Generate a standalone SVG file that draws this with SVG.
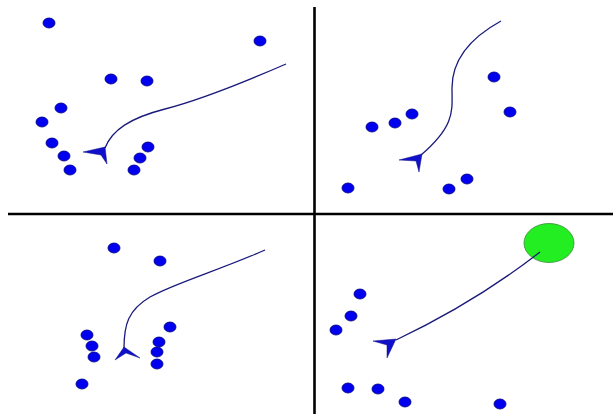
<svg xmlns="http://www.w3.org/2000/svg" width="613" height="414" viewBox="0 0 613 414">
<style>
.dot{fill:#0000ee;stroke:#000080;stroke-width:0.8}
.path{fill:none;stroke:#1a1a7a;stroke-width:1.3}
.head{fill:#1010cc;stroke:#101080;stroke-width:0.5}
.div{stroke:#000;stroke-width:2.6}
</style>
<rect width="613" height="414" fill="#fff"/>
<g id="dividers">
<line class="div" x1="8" y1="214" x2="613" y2="214"/>
<line class="div" x1="314.5" y1="7" x2="314.5" y2="414"/>
</g>
<g id="q1">
<ellipse class="dot" cx="49" cy="23" rx="6" ry="5"/>
<ellipse class="dot" cx="260" cy="41" rx="6" ry="5"/>
<ellipse class="dot" cx="111" cy="79" rx="6" ry="5"/>
<ellipse class="dot" cx="147" cy="81" rx="6" ry="5"/>
<ellipse class="dot" cx="61" cy="108" rx="6" ry="5"/>
<ellipse class="dot" cx="42" cy="122" rx="6" ry="5"/>
<ellipse class="dot" cx="52" cy="143" rx="6" ry="5"/>
<ellipse class="dot" cx="64" cy="156" rx="6" ry="5"/>
<ellipse class="dot" cx="70" cy="170" rx="6" ry="5"/>
<ellipse class="dot" cx="148" cy="147" rx="6" ry="5"/>
<ellipse class="dot" cx="140" cy="158" rx="6" ry="5"/>
<ellipse class="dot" cx="134" cy="170" rx="6" ry="5"/>
</g>
<g id="q2">
<ellipse class="dot" cx="494" cy="77" rx="6" ry="5"/>
<ellipse class="dot" cx="510" cy="112" rx="6" ry="5"/>
<ellipse class="dot" cx="412" cy="114" rx="6" ry="5"/>
<ellipse class="dot" cx="395" cy="123" rx="6" ry="5"/>
<ellipse class="dot" cx="372" cy="127" rx="6" ry="5"/>
<ellipse class="dot" cx="348" cy="188" rx="6" ry="5"/>
<ellipse class="dot" cx="449" cy="189" rx="6" ry="5"/>
<ellipse class="dot" cx="467" cy="179" rx="6" ry="5"/>
</g>
<g id="q3">
<ellipse class="dot" cx="114" cy="248" rx="6" ry="5"/>
<ellipse class="dot" cx="160" cy="261" rx="6" ry="5"/>
<ellipse class="dot" cx="170" cy="327" rx="6" ry="5"/>
<ellipse class="dot" cx="87" cy="335" rx="6" ry="5"/>
<ellipse class="dot" cx="92" cy="346" rx="6" ry="5"/>
<ellipse class="dot" cx="94" cy="357" rx="6" ry="5"/>
<ellipse class="dot" cx="159" cy="342" rx="6" ry="5"/>
<ellipse class="dot" cx="157" cy="352" rx="6" ry="5"/>
<ellipse class="dot" cx="157" cy="364" rx="6" ry="5"/>
<ellipse class="dot" cx="82" cy="384" rx="6" ry="5"/>
</g>
<g id="q4">
<ellipse id="goal" cx="549" cy="243" rx="25" ry="19.5" fill="#22ee22" stroke="#3a8a3a" stroke-width="0.8"/>
<ellipse class="dot" cx="360" cy="294" rx="6" ry="5"/>
<ellipse class="dot" cx="351" cy="316" rx="6" ry="5"/>
<ellipse class="dot" cx="336" cy="330" rx="6" ry="5"/>
<ellipse class="dot" cx="348" cy="388" rx="6" ry="5"/>
<ellipse class="dot" cx="378" cy="389" rx="6" ry="5"/>
<ellipse class="dot" cx="405" cy="402" rx="6" ry="5"/>
<ellipse class="dot" cx="500" cy="404" rx="6" ry="5"/>
</g>
<g id="connectors">
<path class="path" d="M286,64 C240,84 200,100 165,109 C130,118 112,130 105,148"/>
<polygon class="head" points="83,152 105,147 107,164 101,155"/>
<path class="path" d="M501,21 C470,38 452,60 452,88 C452,110 456,125 421,155"/>
<polygon class="head" points="399,160 422,154 419,172 416,161"/>
<path class="path" d="M265,250 C220,270 175,283 150,297 C128,310 124,325 124,348"/>
<polygon class="head" points="115,360 124,347 140,358 126,353"/>
<path class="path" d="M540,252 Q476,302 396,340"/>
<polygon class="head" points="373,341 396,339 387,358 387,345"/>
</g>
</svg>
